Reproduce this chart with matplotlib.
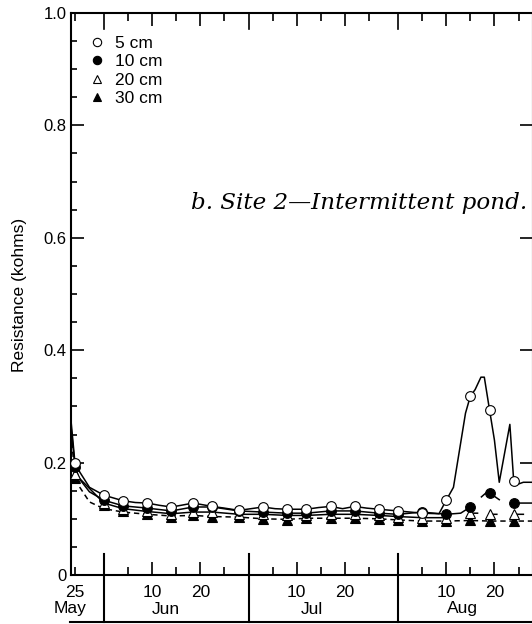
import numpy as np
import matplotlib
matplotlib.use("Agg")
import matplotlib.pyplot as plt
import matplotlib.transforms as mtransforms
from matplotlib.lines import Line2D

plt.rcParams['font.family'] = ['Liberation Sans', 'DejaVu Sans']

# day of year (non-leap): May 25 = 145, Jun 1 = 152, Jul 1 = 182, Aug 1 = 213
mk_days = [145, 151, 155, 160, 165, 169.5, 173.5, 179, 184, 189, 193, 198,
           203, 208, 212, 217, 222, 227, 231, 236]

# marker values (kohms)
mk_5cm = [0.199, 0.142, 0.132, 0.128, 0.121, 0.128, 0.122, 0.115, 0.121, 0.117,
          0.117, 0.122, 0.122, 0.117, 0.114, 0.110, 0.133, 0.318, 0.293, 0.167]
mk_10cm = [0.192, 0.133, 0.123, 0.119, 0.114, 0.121, 0.121, 0.114, 0.112, 0.110,
           0.110, 0.114, 0.114, 0.110, 0.108, 0.112, 0.108, 0.121, 0.146, 0.128]
mk_20cm = [0.180, 0.128, 0.118, 0.113, 0.109, 0.112, 0.112, 0.108, 0.108, 0.106,
           0.106, 0.108, 0.108, 0.106, 0.104, 0.102, 0.102, 0.110, 0.108, 0.108]
mk_30cm = [0.172, 0.124, 0.113, 0.108, 0.104, 0.106, 0.104, 0.103, 0.100, 0.098,
           0.101, 0.101, 0.101, 0.100, 0.098, 0.096, 0.096, 0.097, 0.096, 0.096]

# continuous records (lines), NaN = gap in record
ln5_days = [144.2, 145, 146, 148, 151, 155, 157.5, 160, 162.5, 165, 167, 169.5, 173.5,
            176, 179, 184, 186.5, 189, 193, 195.5, 198, 200.5, 203, 205.5, 208, 212,
            214.5, 217, 220.5, 222, 223.5, 226, 227, 228, 229.2, 229.9, 231, 232, 233,
            235.2, 236, 237, 238, 240]
ln5_vals = [0.272, 0.199, 0.183, 0.156, 0.142, 0.132, 0.129, 0.128, 0.124, 0.121, 0.124,
            0.128, 0.122, 0.119, 0.115, 0.121, 0.118, 0.117, 0.117, 0.120, 0.122, 0.118,
            0.122, 0.119, 0.117, 0.114, 0.112, 0.110, 0.109, 0.133, 0.156, 0.288, 0.318,
            0.330, 0.352, 0.352, 0.293, 0.240, 0.165, 0.268, 0.167, 0.162, 0.165, 0.165]

ln10_days = [144.2, 145, 146, 148, 151, 155, 160, 165, 169.5, 173.5, 179, 184, 189,
             193, 198, 203, 208, 212, 217, 222, 225, 227, 228.5, 229.3, 230.5, 231,
             233, 234.5, 236, 240]
ln10_vals = [0.262, 0.192, 0.170, 0.148, 0.133, 0.123, 0.119, 0.114, 0.121, 0.121,
             0.114, 0.112, 0.110, 0.110, 0.114, 0.114, 0.110, 0.108, 0.112, 0.108,
             0.110, 0.121, np.nan, 0.139, 0.148, 0.146, 0.134, np.nan, 0.128, 0.128]

ln20_days = mk_days[:16] + [222, 226, 227, 228.5, 229.5, 231, 232.5, 234.5, 236, 238]
ln20_vals = mk_20cm[:16] + [0.102, np.nan, 0.110, 0.110, np.nan, 0.108, 0.108,
                            np.nan, 0.108, 0.108]

ln30_days = [144.2, 145, 146, 148, 151, 155, 160, 165, 169.5, 173.5, 179, 184, 189,
             193, 198, 203, 208, 212, 217, 222, 227, 231, 236, 240]
ln30_vals = [0.252, 0.172, 0.156, 0.130, 0.118, 0.112, 0.108, 0.105, 0.106, 0.104,
             0.103, 0.100, 0.099, 0.101, 0.101, 0.101, 0.100, 0.098, 0.096, 0.096,
             0.097, 0.096, 0.096, 0.096]

labels = ['5 cm', '10 cm', '20 cm', '30 cm']

month_bounds = [151, 181, 212]
month_names = ['May', 'Jun', 'Jul', 'Aug']
month_pos = [143.9, 163.8, 194.2, 225.3]
major_days = [161, 171, 191, 201, 222, 232]
major_labels = ['10', '20', '10', '20', '10', '20']
minor_days = [145, 156, 166, 176, 186, 196, 206, 217, 227, 237]
minor_labels = ['25', '', '', '', '', '', '', '', '', '']

fig = plt.figure(figsize=(5.32, 6.24), dpi=100)
W, H = 532, 624
ax = fig.add_axes([71 / W, 49 / H, 462 / W, 562 / H])

lw = 1.1
ax.plot(ln5_days, ln5_vals, '-', color='black', lw=lw, zorder=2)
ax.plot(ln10_days, ln10_vals, '-', color='black', lw=lw, zorder=2)
ax.plot(ln20_days, ln20_vals, '-', color='black', lw=lw, zorder=2)
ax.plot(ln30_days, ln30_vals, '--', color='black', lw=lw, dashes=(3.5, 2.5), zorder=2)

ms = 7
ax.plot(mk_days, mk_30cm, '^', color='black', ms=ms, mew=0.8, ls='none', zorder=3)
ax.plot(mk_days, mk_20cm, '^', mfc='white', mec='black', ms=ms, mew=0.8, ls='none', zorder=4)
ax.plot(mk_days, mk_10cm, 'o', color='black', ms=ms, mew=0.8, ls='none', zorder=5)
ax.plot(mk_days, mk_5cm, 'o', mfc='white', mec='black', ms=ms, mew=0.8, ls='none', zorder=6)

ax.set_xlim(144.17, 240.0)
ax.set_ylim(0, 1.0)

# y axis
ax.set_yticks([0, 0.2, 0.4, 0.6, 0.8, 1.0])
ax.set_yticklabels(['0', '0.2', '0.4', '0.6', '0.8', '1.0'])
ax.set_yticks(np.arange(0.05, 1.0, 0.05), minor=True)

# x axis
ax.set_xticks(major_days)
ax.set_xticklabels(major_labels)
ax.set_xticks(minor_days, minor=True)
ax.set_xticklabels(minor_labels, minor=True)

ax.tick_params(axis='y', which='major', direction='in', length=9.5, width=1.2,
               labelsize=12, pad=3, right=True)
ax.tick_params(axis='y', which='minor', direction='in', length=4.5, width=1.2)
ax.tick_params(axis='x', which='major', direction='in', length=9.5, width=1.2,
               labelsize=12.5, pad=7, top=True)
ax.tick_params(axis='x', which='minor', direction='in', length=6, width=1.2,
               labelsize=12.5, pad=7, top=True)

for s in ['left', 'bottom', 'top', 'right']:
    ax.spines[s].set_linewidth(1.5)

# month boxes below the axis
trans = mtransforms.blended_transform_factory(ax.transData, ax.transAxes)
box_bottom = -47 / 562
for b in month_bounds:
    ax.plot([b, b], [box_bottom, 21 / 562], color='black', lw=1.5,
            transform=trans, clip_on=False)
    ax.plot([b, b], [1.0, 1 - 16 / 562], color='black', lw=1.2,
            transform=trans, clip_on=False)
ax.plot([144.0, 241], [box_bottom, box_bottom], color='black', lw=1.5,
        transform=trans, clip_on=False)
for name, pos in zip(month_names, month_pos):
    ax.text(pos, -34 / 562, name, transform=trans, ha='center', va='center',
            fontsize=12.5)

fig.text(20 / W, 0.527, 'Resistance (kohms)', rotation=90, ha='center',
         va='center', fontsize=12.5)

ax.text(169.1, 0.652, 'b. Site 2\u2014Intermittent pond.', fontsize=16.6,
        style='italic', family=['DejaVu Serif'],
        ha='left', va='baseline')

handles = [
    Line2D([], [], marker='o', ls='none', mfc='white', mec='black', ms=6, mew=0.8),
    Line2D([], [], marker='o', ls='none', color='black', ms=6, mew=0.8),
    Line2D([], [], marker='^', ls='none', mfc='white', mec='black', ms=6, mew=0.8),
    Line2D([], [], marker='^', ls='none', color='black', ms=6, mew=0.8),
]
ax.legend(handles, labels, loc='upper left', bbox_to_anchor=(0.038, 0.959),
          frameon=False, fontsize=12.5, handlelength=1.0, handletextpad=0.5,
          labelspacing=0.18, borderpad=0, borderaxespad=0)

fig.savefig('out.png', dpi=100)
